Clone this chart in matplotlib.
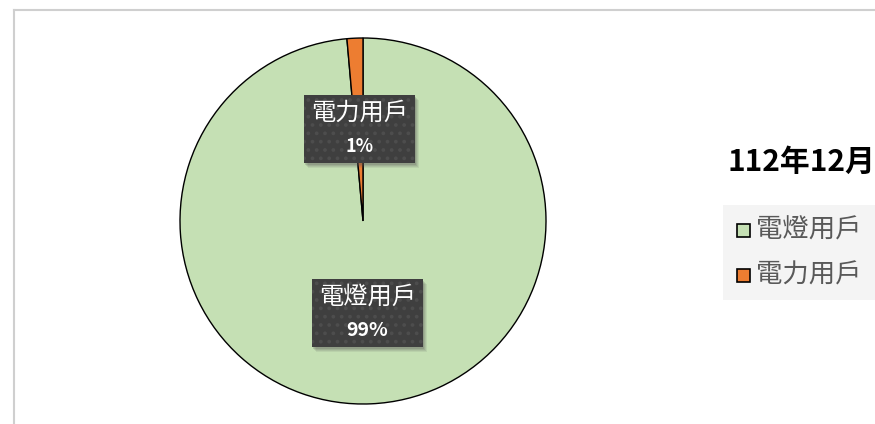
import matplotlib
matplotlib.use("Agg")
import matplotlib.pyplot as plt
from matplotlib.patches import Rectangle
from matplotlib.lines import Line2D

plt.rcParams['font.family'] = ['Noto Sans CJK TC', 'DejaVu Sans']
plt.rcParams['hatch.linewidth'] = 1.5

# ── datos ──
categorias = ["電燈用戶", "電力用戶"]
valores = [98.6, 1.4]
pct_texto = ["99%", "1%"]
colores = ["#c5e0b4", "#ed7d31"]
titulo = "112年12月"

W, H = 875, 424
fig = plt.figure(figsize=(W / 100, H / 100), dpi=100, facecolor="white")

# marco del gráfico (recortado a la derecha y abajo)
fig.add_artist(Line2D([14 / W, 1], [1 - 10 / H, 1 - 10 / H], color="#cfcfcf", lw=1.5))
fig.add_artist(Line2D([14 / W, 14 / W], [0, 1 - 10 / H], color="#cfcfcf", lw=1.5))

# ── pastel ──
cx, cy, r = 363, 221, 183
ax = fig.add_axes([(cx - r) / W, (H - cy - r) / H, 2 * r / W, 2 * r / H])
wedges, _ = ax.pie(valores, colors=colores, startangle=90, counterclock=False,
                   wedgeprops=dict(edgecolor="black", linewidth=1.0))
ax.set_xlim(-1, 1)
ax.set_ylim(-1, 1)
ax.set_aspect("equal")
ax.axis("off")

# etiquetas con caja oscura
pos_etiquetas = [(0.025, -0.503), (-0.019, 0.503)]
tam_pct = [14, 13]
for (x, y), cat, pct, fs in zip(pos_etiquetas, categorias, pct_texto, tam_pct):
    ax.text(x, y + 0.09, cat, ha="center", va="center", color="white",
            fontsize=17.5, zorder=5)
    ax.text(x, y - 0.095, pct, ha="center", va="center", color="white",
            fontsize=fs, fontweight="bold", zorder=5)
    bw, bh = 111 / r, 68 / r
    # sombra suave
    for k, a in zip([5, 4, 3, 2], [0.10, 0.12, 0.15, 0.2]):
        ax.add_patch(Rectangle((x - bw / 2 + (k - 1) / r, y - bh / 2 - k / r),
                               bw, bh, facecolor="#555555", alpha=a,
                               edgecolor="none", zorder=3))
    ax.add_patch(Rectangle((x - bw / 2, y - bh / 2), bw, bh, facecolor="#3f3f3f",
                           edgecolor="#4d4d4d", hatch="..", linewidth=0, zorder=4))

# ── título ──
fig.text(727 / W, 1 - 162 / H, titulo, ha="left", va="center", fontsize=21.5,
         fontweight="bold", color="black")

# ── leyenda ──
fig.add_artist(Rectangle((723 / W, 1 - 300 / H), (W - 723) / W, 95 / H,
                         facecolor="#f4f4f4", edgecolor="none",
                         transform=fig.transFigure))
filas_y = [230, 275]
for fy, cat, col in zip(filas_y, categorias, colores):
    fig.add_artist(Rectangle((737 / W, 1 - (fy + 7) / H), 13 / W, 13 / H,
                             facecolor=col, edgecolor="black", linewidth=1.2,
                             transform=fig.transFigure))
    fig.text(756 / W, 1 - fy / H, cat, ha="left", va="center", fontsize=19,
             color="#595959")

fig.savefig("out.png", dpi=100, facecolor="white")
